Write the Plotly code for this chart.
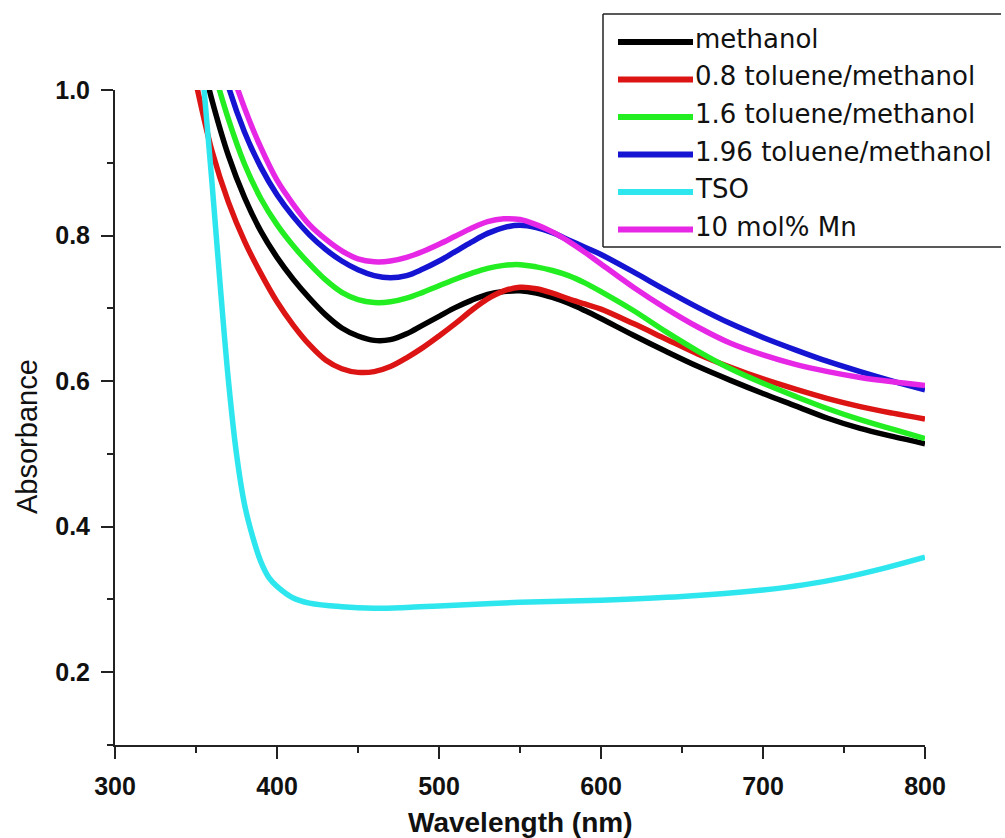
import plotly.graph_objects as go

# Absorption spectra: wavelength grid (nm) shared by the solvent series
wavelength = [340, 350, 360, 370, 380, 390, 400, 410, 420, 430, 440, 450, 460, 470,
              480, 490, 500, 510, 520, 530, 540, 550, 560, 570, 580, 590, 600,
              620, 640, 660, 680, 700, 720, 740, 760, 780, 800]

methanol = [1.17, 1.075, 0.985, 0.910, 0.852, 0.806, 0.770, 0.740, 0.714, 0.691, 0.673,
            0.662, 0.656, 0.657, 0.665, 0.677, 0.689, 0.701, 0.711, 0.719, 0.723, 0.724,
            0.721, 0.715, 0.707, 0.697, 0.686,
            0.663, 0.641, 0.620, 0.601, 0.583, 0.566, 0.549, 0.535, 0.524, 0.514]

tol_08 = [1.12, 1.01, 0.915, 0.846, 0.792, 0.748, 0.709, 0.677, 0.650, 0.629, 0.617,
          0.612, 0.613, 0.620, 0.632, 0.646, 0.662, 0.679, 0.697, 0.713, 0.724, 0.729,
          0.727, 0.721, 0.713, 0.706, 0.699,
          0.679, 0.658, 0.637, 0.619, 0.603, 0.589, 0.576, 0.565, 0.556, 0.548]

tol_16 = [1.22, 1.12, 1.035, 0.960, 0.898, 0.851, 0.815, 0.786, 0.761, 0.739, 0.722,
          0.712, 0.708, 0.709, 0.714, 0.722, 0.731, 0.740, 0.748, 0.755, 0.759, 0.760,
          0.757, 0.752, 0.745, 0.735, 0.723,
          0.697, 0.668, 0.641, 0.617, 0.597, 0.579, 0.562, 0.547, 0.534, 0.521]

tol_196 = [1.33, 1.21, 1.09, 1.005, 0.942, 0.894, 0.856, 0.826, 0.801, 0.781, 0.765,
           0.753, 0.745, 0.742, 0.745, 0.754, 0.765, 0.778, 0.791, 0.803, 0.811, 0.814,
           0.811, 0.804, 0.794, 0.784, 0.774,
           0.750, 0.725, 0.701, 0.679, 0.660, 0.643, 0.627, 0.613, 0.600, 0.588]

mn_10 = [1.36, 1.24, 1.13, 1.04, 0.975, 0.921, 0.876, 0.843, 0.815, 0.795, 0.779,
         0.768, 0.764, 0.765, 0.770, 0.778, 0.788, 0.799, 0.810, 0.819, 0.823, 0.822,
         0.815, 0.805, 0.792, 0.777, 0.761,
         0.729, 0.700, 0.674, 0.652, 0.636, 0.623, 0.613, 0.605, 0.599, 0.594]

# TSO has a sharp absorption edge, so it is sampled more finely below 420 nm
wavelength_tso = [350, 355, 360, 365, 370, 375, 380, 385, 390, 395, 400, 410, 420,
                  440, 460, 480, 500, 550, 600, 650, 700, 725, 750, 775, 800]
tso = [1.13, 1.0, 0.869, 0.73, 0.601, 0.50, 0.43, 0.386, 0.352, 0.33, 0.318, 0.302,
       0.295, 0.290, 0.288, 0.289, 0.291, 0.296, 0.299, 0.304, 0.313, 0.320, 0.330,
       0.343, 0.358]

names = ["methanol", "0.8 toluene/methanol", "1.6 toluene/methanol",
         "1.96 toluene/methanol", "TSO", "10 mol% Mn"]
colors = ["#000000", "#dc1414", "#22ee22", "#1414d2", "#2ee6ee", "#e628e6"]
series = [(wavelength, methanol), (wavelength, tol_08), (wavelength, tol_16),
          (wavelength, tol_196), (wavelength_tso, tso), (wavelength, mn_10)]

x_ticks = [300, 400, 500, 600, 700, 800]
y_ticks = [0.2, 0.4, 0.6, 0.8, 1.0]

W, H = 1005, 838
ML, MR, MT, MB = 115, 80, 90, 93
PW, PH = W - ML - MR, H - MT - MB


def px_x(px):
    return (px - ML) / PW


def px_y(py):
    return (H - MB - py) / PH


fig = go.Figure()
for (xs, ys), name, color in zip(series, names, colors):
    fig.add_trace(go.Scatter(
        x=xs, y=ys, name=name, mode="lines",
        line=dict(color=color, width=5.5, shape="spline", smoothing=1.0),
        showlegend=False,
    ))

axis_common = dict(
    showline=True, linecolor="#222222", linewidth=2, mirror=False,
    showgrid=False, zeroline=False,
    ticks="outside", ticklen=12, tickwidth=2, tickcolor="#222222",
    tickfont=dict(family="Liberation Sans", size=25, color="#111111", weight="bold"),
)

fig.update_xaxes(
    range=[300, 800], tickvals=x_ticks, ticktext=[str(v) for v in x_ticks],
    minor=dict(ticks="outside", ticklen=6, tickwidth=2, tickcolor="#222222", dtick=50, tick0=300),
    ticklabelstandoff=6,
    **axis_common,
)
fig.update_yaxes(
    range=[0.1, 1.0], tickvals=y_ticks, ticktext=[f"{v:.1f}" for v in y_ticks],
    minor=dict(ticks="outside", ticklen=6, tickwidth=2, tickcolor="#222222", dtick=0.1, tick0=0.1),
    ticklabelstandoff=6,
    **axis_common,
)

annotations = [
    dict(text="<b>Wavelength (nm)</b>", xref="paper", yref="paper",
         x=0.5, y=px_y(822), xanchor="center", yanchor="middle", showarrow=False,
         font=dict(family="Liberation Sans", size=28, color="#111111")),
    dict(text="Absorbance", xref="paper", yref="paper", textangle=-90,
         x=px_x(27), y=px_y(437), xanchor="center", yanchor="middle", showarrow=False,
         font=dict(family="Liberation Sans", size=29, color="#111111")),
]

# Legend frame drawn by hand so the sample lines can be long; it runs off the
# right edge of the figure, so only its left, top and bottom borders show
box_left, box_right, box_top, box_bottom = 603, 1001, 14, 247
border = dict(color="#222222", width=1.5)
shapes = [
    dict(type="line", xref="paper", yref="paper",
         x0=px_x(box_left), x1=px_x(box_right), y0=px_y(box_top), y1=px_y(box_top),
         line=border, layer="above"),
    dict(type="line", xref="paper", yref="paper",
         x0=px_x(box_left), x1=px_x(box_right), y0=px_y(box_bottom), y1=px_y(box_bottom),
         line=border, layer="above"),
    dict(type="line", xref="paper", yref="paper",
         x0=px_x(box_left), x1=px_x(box_left), y0=px_y(box_bottom), y1=px_y(box_top),
         line=border, layer="above"),
]
for i, (name, color) in enumerate(zip(names, colors)):
    row_y = 42 + 37.5 * i
    shapes.append(dict(type="line", xref="paper", yref="paper",
                       x0=px_x(618), x1=px_x(693), y0=px_y(row_y), y1=px_y(row_y),
                       line=dict(color=color, width=6), layer="above"))
    annotations.append(dict(text=name, xref="paper", yref="paper",
                            x=px_x(693), y=px_y(row_y - 3), xanchor="left", yanchor="middle",
                            showarrow=False,
                            font=dict(family="DejaVu Sans", size=26, color="#111111")))

fig.update_layout(
    width=W, height=H,
    margin=dict(l=ML, r=MR, t=MT, b=MB),
    paper_bgcolor="white", plot_bgcolor="white",
    shapes=shapes, annotations=annotations,
    showlegend=False,
)

fig.write_html("out.html")
